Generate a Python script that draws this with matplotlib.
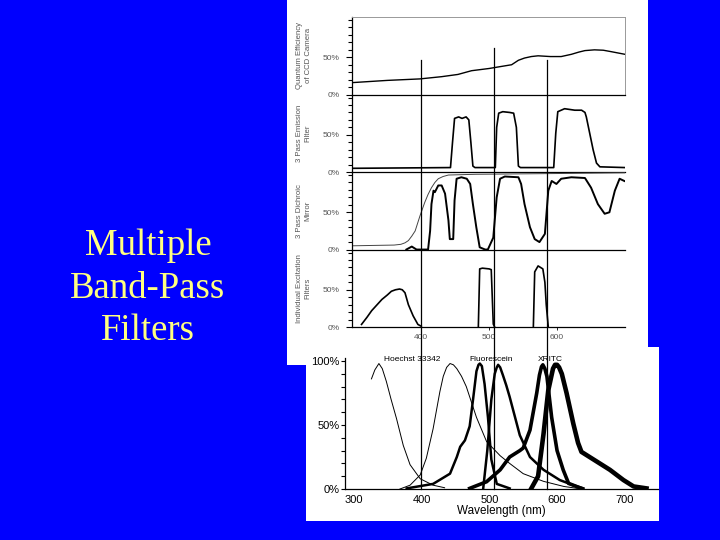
import matplotlib
matplotlib.use("Agg")
import matplotlib.pyplot as plt
from matplotlib.patches import Rectangle
from matplotlib.lines import Line2D
from matplotlib.ticker import MultipleLocator
import matplotlib.transforms as mtransforms

# --- top figure: filter set, wavelength (nm) vs transmission (%) ---
qe_wl = [298, 350, 398, 430, 454, 474, 500, 513, 533, 543, 552, 562, 572, 590, 606, 621, 632, 641,
         655, 668, 680, 700]
qe_val = [16, 19, 21, 24, 27, 32, 35, 37, 40, 46, 49, 51, 52, 51, 51, 54, 57, 59,
          60, 59.5, 57.5, 54]

em_wl = [298, 443, 446, 449, 455, 460, 466, 470, 473, 476, 479, 509, 511, 514, 520, 530, 536, 540,
         543, 546, 595, 598, 601, 611, 626, 636, 641, 643, 648, 653, 658, 663, 700]
em_val = [5, 6, 40, 72, 74, 72, 74, 70, 40, 8, 6, 6, 60, 79, 81, 80, 79, 60,
          8, 6, 6, 52, 81, 85, 83, 83, 80, 74, 52, 30, 12, 7, 6]

dm_env_wl = [298, 360, 370, 376, 381, 386, 391, 398, 405, 410, 415, 420, 425, 432, 440, 480, 600, 700]
dm_env_val = [5, 6, 7, 9, 12, 18, 25, 45, 63, 74, 83, 90, 95, 98, 100, 101, 102, 103]

dm_wl = [378, 386, 393, 410, 413, 415, 418, 420, 425, 430, 435, 440, 442, 447, 449, 452, 459, 467,
         472, 476, 481, 486, 494, 498, 506, 511, 516, 523, 543, 547, 552, 560, 567, 574, 582, 587,
         592, 599, 606, 621, 641, 650, 660, 670, 677, 685, 692, 699]
dm_val = [0, 4, 0, 0, 25, 61, 79, 77, 86, 86, 75, 39, 14, 14, 66, 95, 97, 95,
          88, 61, 30, 3, 0, 0, 16, 70, 95, 98, 97, 88, 61, 30, 14, 10, 21, 79,
          92, 88, 95, 97, 96, 83, 61, 48, 50, 79, 95, 92]

ex_uv_wl = [312, 320, 327, 335, 342, 350, 356, 362, 368, 372, 376, 381, 388, 395, 400]
ex_uv_val = [3.5, 13, 22, 30, 37, 43, 48, 50, 51, 50, 46, 30, 15, 3.5, 1]
ex_blue_wl = [484, 486, 490, 500, 503, 506, 508]
ex_blue_val = [0, 78, 79, 78, 77, 4, 0]
ex_green_wl = [565, 567, 572, 579, 582, 584, 587]
ex_green_val = [0, 74, 82, 78, 60, 30, 0]

panel_labels = ["Quantum Efficiency\nof CCD Camera", "3 Pass Emission\nFilter",
                "3 Pass Dichroic\nMirror", "Individual Excitation\nFilters"]
top_xticks = [400, 500, 600]

# --- bottom figure: dye spectra ---
hoe_ex_wl = [326, 331, 337, 342, 348, 355, 363, 373, 383, 398, 417, 434]
hoe_ex_val = [86, 93, 98, 94, 84, 70, 55, 34, 19, 8, 3, 1]
hoe_em_wl = [368, 383, 398, 407, 417, 427, 432, 437, 442, 447, 452, 459, 466, 481, 496, 516, 530,
             550, 580, 610, 630]
hoe_em_val = [0, 3, 11, 24, 47, 76, 88, 95, 98, 97, 94, 88, 80, 56, 37, 26, 20,
              12, 6, 2, 0.5]
fl_ex_wl = [378, 417, 442, 452, 457, 464, 471, 476, 481, 484, 486, 489, 493, 498, 503, 511, 530]
fl_ex_val = [0.5, 4, 12, 25, 33, 38, 49, 70, 92, 97, 98, 96, 82, 56, 23, 4, 0.5]
fl_em_wl = [491, 497, 503, 508, 511, 513, 516, 520, 525, 530, 538, 545, 560, 580, 604, 624, 639]
fl_em_val = [0.5, 30, 70, 90, 95, 97, 95, 89, 81, 72, 56, 42, 25, 15, 7, 3, 0.5]
xr_ex_wl = [471, 496, 516, 530, 545, 550, 560, 570, 574, 577, 579, 582, 585, 592, 600, 609, 617, 636]
xr_ex_val = [0.5, 5.7, 15, 25, 30, 32, 46, 75, 89, 95.5, 97, 94, 88, 56, 30, 15, 4.4, 0.5]
xr_em_wl = [562, 572, 580, 587, 594, 597, 600, 603, 607, 614, 624, 631, 636, 654, 678, 698, 713, 732]
xr_em_val = [0.5, 10, 43, 77, 94, 97, 97, 95, 90, 75, 51, 36, 29, 23, 15, 7, 2, 0.5]

dye_names = ["Hoechst 33342", "Fluorescein", "XRITC"]
dye_label_wl = [386, 502, 590]
bottom_xticks = [300, 400, 500, 600, 700]
marker_wl = [399, 507, 585]

BLUE = "#0000fe"
GRAY = "#555555"
SANS = ["Liberation Sans", "DejaVu Sans"]
plt.rcParams["font.family"] = SANS

fig = plt.figure(figsize=(7.2, 5.4), dpi=100, facecolor=BLUE)

# white paper behind the two scanned figures
fig.patches.append(Rectangle((0.3986, 0.3241), 0.5014, 0.6759, transform=fig.transFigure,
                             facecolor="white", edgecolor="none", zorder=-2))
fig.patches.append(Rectangle((0.425, 0.0352), 0.4903, 0.3222, transform=fig.transFigure,
                             facecolor="white", edgecolor="none", zorder=-2))

fig.text(0.2056, 0.466, "Multiple\nBand-Pass\nFilters", color="#ffff80",
         family=["Liberation Serif", "DejaVu Serif"], fontsize=26.5,
         ha="center", va="center", linespacing=1.3)

# four stacked panels
h = 0.1435
bottoms = [0.3944 + 3 * h, 0.3944 + 2 * h, 0.3944 + h, 0.3944]
axes = []
for i, b in enumerate(bottoms):
    ax = fig.add_axes([0.4889, b, 0.3792, h])
    ax.set_facecolor("none")
    ax.set_xlim(298, 700)
    ax.set_ylim(0, 104)
    ax.set_yticks([0, 50])
    ax.set_yticklabels(["0%", "50%"])
    ax.yaxis.set_minor_locator(MultipleLocator(10))
    ax.tick_params(axis="y", which="both", direction="out", length=3, width=0.8,
                   labelsize=6, labelcolor=GRAY, pad=5)
    ax.tick_params(axis="y", which="major", length=4)
    for s in ["top", "right"]:
        ax.spines[s].set_visible(False)
    ax.spines["left"].set_linewidth(0.9)
    ax.spines["bottom"].set_linewidth(0.9)
    ax.set_ylabel(panel_labels[i], fontsize=5.6, color=GRAY, linespacing=1.3)
    ax.yaxis.set_label_coords(-0.148, 0.5)
    if i < 3:
        ax.set_xticks([])
    else:
        ax.set_xticks(top_xticks)
        ax.tick_params(axis="x", direction="out", length=2, width=0.6,
                       labelsize=6, labelcolor=GRAY, pad=3)
    axes.append(ax)

axes[0].spines["top"].set_visible(True)
axes[0].spines["right"].set_visible(True)
axes[0].spines["top"].set_color("#999999")
axes[0].spines["right"].set_color("#999999")
axes[0].spines["top"].set_linewidth(0.7)
axes[0].spines["right"].set_linewidth(0.7)

axes[0].plot(qe_wl, qe_val, color="black", lw=1.0)
axes[1].plot(em_wl, em_val, color="black", lw=1.2)
axes[2].plot(dm_env_wl, dm_env_val, color="#444444", lw=0.7)
axes[2].plot(dm_wl, dm_val, color="black", lw=1.4)
axes[3].plot(ex_uv_wl, ex_uv_val, color="black", lw=1.2)
axes[3].plot(ex_blue_wl, ex_blue_val, color="black", lw=1.2)
axes[3].plot(ex_green_wl, ex_green_val, color="black", lw=1.2)

# dye spectra
axb = fig.add_axes([0.4792, 0.0944, 0.4347, 0.2426])
axb.set_facecolor("none")
axb.set_xlim(287, 749)
axb.set_ylim(0, 102.3)
axb.plot(hoe_ex_wl, hoe_ex_val, color="black", lw=0.7)
axb.plot(hoe_em_wl, hoe_em_val, color="black", lw=0.7)
axb.plot(fl_ex_wl, fl_ex_val, color="black", lw=1.8)
axb.plot(fl_em_wl, fl_em_val, color="black", lw=1.8)
axb.plot(xr_ex_wl, xr_ex_val, color="black", lw=2.6)
axb.plot(xr_em_wl, xr_em_val, color="black", lw=3.3)
for name, wl in zip(dye_names, dye_label_wl):
    axb.text(wl, 101.5, name, fontsize=6, ha="center", va="center")

axb.set_xticks(bottom_xticks)
axb.set_yticks([0, 50, 100])
axb.set_yticklabels(["0%", "50%", "100%"])
axb.yaxis.set_minor_locator(MultipleLocator(10))
axb.tick_params(axis="y", which="both", direction="out", length=3, width=0.8,
                labelsize=8, pad=1)
axb.tick_params(axis="x", length=0, labelsize=8, pad=4)
axb.set_xlabel("Wavelength (nm)", fontsize=8.4, labelpad=0)
for s in ["top", "right"]:
    axb.spines[s].set_visible(False)
axb.spines["left"].set_linewidth(0.9)
axb.spines["bottom"].set_linewidth(0.9)

# vertical guide lines running through both figures
trans = mtransforms.blended_transform_factory(axb.transData, fig.transFigure)
line_tops = [0.889, 0.911, 0.889]
for wl, top in zip(marker_wl, line_tops):
    fig.add_artist(Line2D([wl, wl], [0.0944, top], transform=trans,
                          color="black", lw=0.9))

fig.savefig("out.png", dpi=100, facecolor=fig.get_facecolor())
